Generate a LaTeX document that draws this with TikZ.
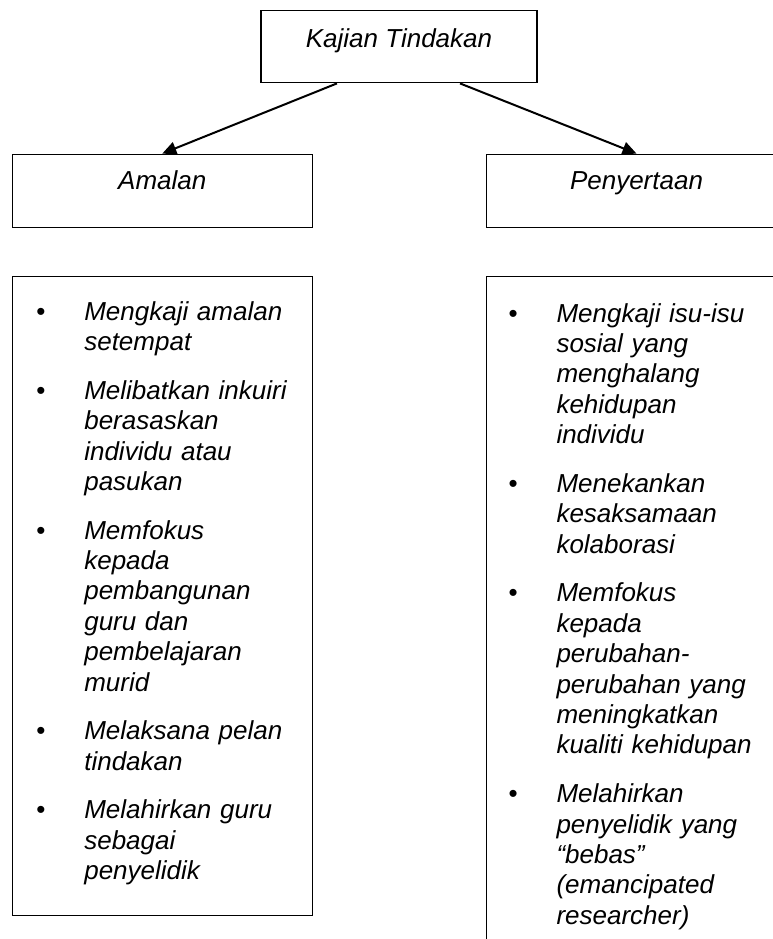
\documentclass[tikz,border=0pt]{standalone}
\usepackage{fontspec}
\setmainfont{Liberation Sans}
\usepackage{tikz}
\usetikzlibrary{arrows.meta, positioning}

% one bullet point with hanging text
\newcommand{\listpoint}[1]{\par\hangindent=48pt\hangafter=1\noindent\makebox[48pt][l]{\upshape\textbullet}#1\par\vspace{18.3pt}}

\begin{document}
\begin{tikzpicture}[
		x=1pt, y=-1pt,
		line width=1.4pt,
		every node/.style={font=\fontsize{26}{30.4}\selectfont\itshape},
		head box/.style={draw, inner sep=0pt, minimum width=276pt, text height=36.5pt, text depth=35.5pt},
		sub box/.style={draw, inner sep=0pt, minimum width=300pt, text height=35pt, text depth=38.5pt},
		list box/.style={draw, inner sep=0pt, minimum width=300pt},
		list text/.style={inner sep=0pt, anchor=north west, text width=270pt, align=left},
		link/.style={line width=2pt, -{Triangle[length=14pt, width=13pt]}}
		]

	\useasboundingbox (0, 0) rectangle (773, 939);
	\clip (0, 0) rectangle (773, 939);

	% Top box
	\node[head box] (kajian) at (399, 46.7) {Kajian Tindakan};

	% Second row
	\node[sub box] (amalan) at (162.3, 191) {Amalan};
	\node[sub box] (penyertaan) at (636.5, 191) {Penyertaan};

	% Arrows
	\draw[link] ([xshift=-62pt]kajian.south) -- (amalan.north);
	\draw[link] ([xshift=61pt]kajian.south) -- (penyertaan.north);

	% Lists
	\node[list box, minimum height=639.3pt, below=47.3pt of amalan] (amalanlist) {};
	\node[list box, minimum height=720pt, below=47.3pt of penyertaan] (penyertaanlist) {};

	\node[list text] (amalanpoints) at ([xshift=24pt, yshift=-13.3pt]amalanlist.north west) {%
		\listpoint{Mengkaji amalan\newline setempat}
		\listpoint{Melibatkan inkuiri\newline berasaskan\newline individu atau\newline pasukan}
		\listpoint{Memfokus\newline kepada\newline pembangunan\newline guru dan\newline pembelajaran\newline murid}
		\listpoint{Melaksana pelan\newline tindakan}
		\listpoint{Melahirkan guru\newline sebagai\newline penyelidik}
	};

	\node[list text] (penyertaanpoints) at ([xshift=22pt, yshift=-15.3pt]penyertaanlist.north west) {%
		\listpoint{Mengkaji isu-isu\newline sosial yang\newline menghalang\newline kehidupan\newline individu}
		\listpoint{Menekankan\newline kesaksamaan\newline kolaborasi}
		\listpoint{Memfokus\newline kepada\newline perubahan-\newline perubahan yang\newline meningkatkan\newline kualiti kehidupan}
		\listpoint{Melahirkan\newline penyelidik yang\newline “bebas”\newline (emancipated\newline researcher)}
	};

\end{tikzpicture}
\end{document}
